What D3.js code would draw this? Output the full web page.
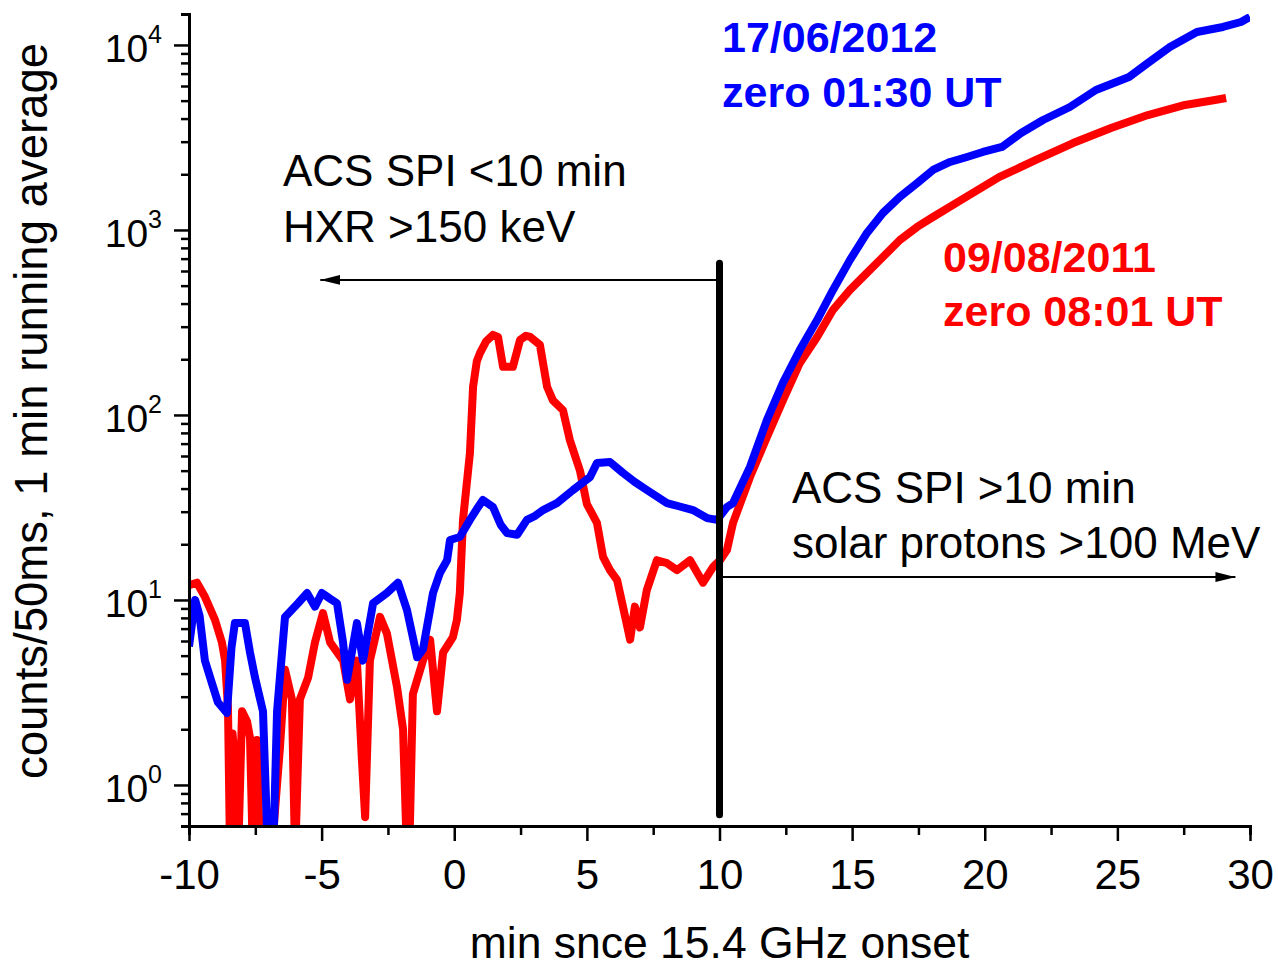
<!DOCTYPE html>
<html>
<head>
<meta charset="utf-8">
<script src="https://cdn.jsdelivr.net/npm/d3@7"></script>
<style>
body { margin: 0; background: #fff; }
text { font-family: "Liberation Sans", Arial, sans-serif; }
</style>
</head>
<body>
<svg id="chart"></svg>
<script>
// data: [minutes since onset, counts]
var blueData = [
	[-10.0, 5.6], [-9.77, 10], [-9.60, 8.2], [-9.40, 4.7], [-9.15, 3.6], [-8.91, 2.8], [-8.57, 2.45], [-8.40, 5.5], [-8.27, 7.5], [-7.89, 7.5],
	[-7.70, 5.2], [-7.51, 3.8], [-7.21, 2.5], [-7.02, 0.4], [-6.83, 0.4], [-6.68, 2.5], [-6.38, 8.1], [-5.89, 9.6],
	[-5.55, 10.9], [-5.25, 9.2], [-4.99, 10.9], [-4.70, 10.2], [-4.42, 9.6], [-4.20, 6.0], [-4.04, 3.7], [-3.67, 7.5], [-3.44, 4.7],
	[-3.06, 9.6], [-2.54, 10.9], [-2.12, 12.4], [-1.78, 8.8], [-1.40, 4.9], [-1.18, 5.4], [-0.80, 10.9],
	[-0.54, 14], [-0.27, 16.4], [-0.16, 21.1], [0.21, 21.9], [0.59, 27.1], [0.85, 31], [1.08, 34.7], [1.46, 31.8],
	[1.75, 25.5], [1.99, 23.0], [2.37, 22.5], [2.74, 27.1], [3.05, 28.5], [3.35, 30.6], [3.87, 33.4], [4.48, 39.3], [5.12, 46.2],
	[5.38, 55], [5.87, 55.7], [6.36, 48.6], [6.80, 43.5], [7.26, 39.3], [8.02, 33.4], [8.50, 32.0], [9.00, 30.6], [9.53, 27.7],
	[9.91, 27.1], [10.28, 31.8], [10.51, 33.4], [11.15, 52.4], [11.79, 94], [12.39, 149], [13.03, 225],
	[13.68, 326], [14.28, 474], [14.92, 689], [15.56, 963], [16.16, 1235], [16.80, 1510], [17.45, 1790],
	[18.05, 2110], [18.69, 2330], [19.33, 2480], [19.93, 2640], [20.65, 2810], [21.37, 3345], [22.20, 3930],
	[23.21, 4620], [24.19, 5710], [25.44, 6710], [26.15, 7990], [26.98, 9750], [28.0, 11750], [28.98, 12510],
	[29.66, 13310], [30.0, 14170]
];
var redData = [
	[-10.0, 12.0], [-9.70, 12.4], [-9.40, 10.4], [-9.02, 7.8], [-8.76, 5.9], [-8.64, 4.7], [-8.53, 2.6],
	[-8.45, 0.4], [-8.36, 1.9], [-8.27, 1.36], [-8.15, 0.4], [-8.00, 2.5], [-7.81, 2.2], [-7.70, 1.8], [-7.59, 0.4],
	[-7.44, 1.75], [-7.32, 0.4], [-6.9, 0.4], [-6.57, 1.6], [-6.38, 4.2], [-6.12, 2.9], [-6.00, 0.4],
	[-5.82, 2.9], [-5.51, 3.8], [-5.25, 5.9], [-4.95, 8.5], [-4.68, 5.9], [-4.19, 4.7], [-3.93, 2.9],
	[-3.67, 4.7], [-3.48, 1.36], [-3.36, 0.67], [-3.18, 4.7], [-2.80, 8.1], [-2.54, 6.6], [-2.16, 3.4],
	[-1.93, 2.0], [-1.78, 0.4], [-1.67, 0.62], [-1.56, 3.1], [-1.18, 4.7], [-0.91, 6.1], [-0.65, 2.5],
	[-0.42, 5.2], [-0.05, 6.3], [0.10, 7.8], [0.21, 10.9], [0.33, 27.1], [0.59, 62], [0.71, 142],
	[0.85, 195], [0.97, 216], [1.20, 250], [1.46, 271], [1.65, 264], [1.84, 182], [2.21, 182], [2.48, 254], [2.70, 268], [2.86, 264], [3.23, 239],
	[3.50, 142], [3.72, 120], [4.10, 106], [4.36, 73], [4.74, 50], [5.00, 33], [5.38, 26.1], [5.61, 17.1],
	[5.87, 14.5], [6.14, 12.8], [6.36, 9.2], [6.63, 6.1], [6.81, 9.2], [7.00, 7.1], [7.26, 11.3],
	[7.64, 16.4], [8.02, 15.8], [8.40, 14.5], [8.89, 16.4], [9.38, 12.4], [9.76, 15.1], [10.02, 16.4],
	[10.28, 18.6], [10.51, 26.1], [11.15, 46.2], [11.79, 76], [12.39, 120], [13.03, 191], [13.68, 264],
	[14.28, 370], [14.92, 474], [15.56, 586], [16.16, 714], [16.80, 883], [17.45, 1038], [18.05, 1175],
	[19.10, 1450], [20.54, 1930], [21.93, 2390], [23.33, 2950], [24.76, 3560], [26.15, 4180],
	[27.55, 4740], [28.68, 5040], [29.1, 5170]
];
var xMajor = [-10, -5, 0, 5, 10, 15, 20, 25, 30];
var xMinor = [-7.5, -2.5, 2.5, 7.5, 12.5, 17.5, 22.5, 27.5];
var yMajor = [1, 10, 100, 1000, 10000];
var yExp = ["0", "1", "2", "3", "4"];

// margins
var margin = { top: 14, right: 28, bottom: 141, left: 189 },
		width = 1278 - margin.left - margin.right,
		height = 967 - margin.top - margin.bottom;
var svg = d3.select('#chart')
		.attr('width', width + margin.left + margin.right)
		.attr('height', height + margin.top + margin.bottom)
	.append('g')
		.attr('transform', 'translate(' + margin.left + ',' + margin.top + ')');

var xScale = d3.scaleLinear().domain([-10, 30]).range([0, width]);
var yScale = d3.scaleLog().domain([0.6, 14700]).range([height, 0]);

// minor y ticks, 2..9 in every decade
var yMinor = [];
yMajor.concat([0.1]).forEach(function(d){
	for (var k = 2; k < 10; k++) {
		var v = d * k;
		if (v > 0.6 && v < 14700 && yMajor.indexOf(v) < 0) yMinor.push(v);
	}
});

// clip the curves to the plot box
svg.append('clipPath').attr('id', 'plotclip')
	.append('rect').attr('x', 0).attr('y', 0).attr('width', width).attr('height', height);

var line = d3.line().x(function(d){return xScale(d[0]);}).y(function(d){return yScale(d[1]);});
svg.append('path').datum(redData).attr('d', line).attr('clip-path', 'url(#plotclip)')
	.attr('fill', 'none').attr('stroke', '#ff0000').attr('stroke-width', 8).attr('stroke-linejoin', 'round');
svg.append('path').datum(blueData).attr('d', line).attr('clip-path', 'url(#plotclip)')
	.attr('fill', 'none').attr('stroke', '#0000ff').attr('stroke-width', 8).attr('stroke-linejoin', 'round');

// axes
var xMinorAxis = d3.axisBottom(xScale).tickValues(xMinor).tickSize(9).tickFormat('');
var xAxis = d3.axisBottom(xScale).tickValues(xMajor).tickSize(15).tickSizeOuter(0).tickPadding(18)
		.tickFormat(function(d){return String(d);});
var yMinorAxis = d3.axisLeft(yScale).tickValues(yMinor).tickSize(8).tickFormat('');
var yAxis = d3.axisLeft(yScale).tickValues(yMajor).tickSize(15).tickSizeOuter(0).tickFormat('');

var gx2 = svg.append('g').attr('transform', 'translate(0,' + height + ')').call(xMinorAxis);
var gx = svg.append('g').attr('transform', 'translate(0,' + height + ')').call(xAxis);
var gy2 = svg.append('g').call(yMinorAxis);
var gy = svg.append('g').call(yAxis);
[gx, gx2, gy, gy2].forEach(function(g){
	g.select('.domain').attr('stroke', '#000').attr('stroke-width', 3);
	g.selectAll('.tick line').attr('stroke', '#000').attr('stroke-width', 2.5);
});
gx.selectAll('.tick text').attr('font-size', 42).attr('fill', '#000')
	.style('font-family', '"Liberation Sans", Arial, sans-serif');

// y tick labels with superscripts
var ylab = svg.selectAll('.ylab').data(yMajor).enter().append('text')
		.attr('class', 'ylab')
		.attr('text-anchor', 'end')
		.attr('x', -27)
		.attr('y', function(d){return yScale(d) + 17;});
ylab.append('tspan').attr('font-size', 39).text('10');
ylab.append('tspan').attr('font-size', 25).attr('dy', -19).text(function(d, i){return yExp[i];});

// axis titles
svg.append('text').attr('text-anchor', 'middle').attr('font-size', 44.5)
	.attr('x', xScale(10)).attr('y', height + 132).text('min snce 15.4 GHz onset');
svg.append('text').attr('text-anchor', 'middle').attr('font-size', 45.5)
	.attr('transform', 'translate(' + (47 - margin.left) + ',' + (411 - margin.top) + ') rotate(-90)')
	.text('counts/50ms, 1 min running average');

// the 10 minute divider and the two arrows
var arrows = [
	{ from: 10, to: -5.05, level: 537 },
	{ from: 10, to: 29.45, level: 13.3 }
];
svg.append('defs').append('marker').attr('id', 'head')
	.attr('viewBox', '0 0 20 10').attr('refX', 20).attr('refY', 5)
	.attr('markerWidth', 20).attr('markerHeight', 10).attr('markerUnits', 'userSpaceOnUse')
	.attr('orient', 'auto')
	.append('path').attr('d', 'M0,0 L20,5 L0,10 Z').attr('fill', '#000');
svg.selectAll('.arrow').data(arrows).enter().append('line').attr('class', 'arrow')
	.attr('x1', function(d){return xScale(d.from);}).attr('x2', function(d){return xScale(d.to);})
	.attr('y1', function(d){return yScale(d.level);}).attr('y2', function(d){return yScale(d.level);})
	.attr('stroke', '#000').attr('stroke-width', 2).attr('marker-end', 'url(#head)');
svg.append('line')
	.attr('x1', xScale(10)).attr('x2', xScale(10))
	.attr('y1', yScale(660)).attr('y2', yScale(0.69))
	.attr('stroke', '#000').attr('stroke-width', 7).attr('stroke-linecap', 'round');

// annotation text
var notes = [
	{ t: 'ACS SPI <10 min', x: 94, y: 172, c: '#000', b: false },
	{ t: 'HXR >150 keV', x: 94, y: 228, c: '#000', b: false },
	{ t: 'ACS SPI >10 min', x: 603, y: 489, c: '#000', b: false },
	{ t: 'solar protons >100 MeV', x: 603, y: 544, c: '#000', b: false },
	{ t: '17/06/2012', x: 533, y: 38, c: '#0000ff', b: true },
	{ t: 'zero 01:30 UT', x: 533, y: 93, c: '#0000ff', b: true },
	{ t: '09/08/2011', x: 754, y: 258, c: '#ff0000', b: true },
	{ t: 'zero 08:01 UT', x: 754, y: 312, c: '#ff0000', b: true }
];
svg.selectAll('.note').data(notes).enter().append('text').attr('class', 'note')
	.attr('x', function(d){return d.x;}).attr('y', function(d){return d.y;})
	.attr('font-size', function(d){return d.b ? 43 : 44;})
	.attr('font-weight', function(d){return d.b ? 'bold' : 'normal';})
	.attr('fill', function(d){return d.c;})
	.text(function(d){return d.t;});
</script>
</body>
</html>
